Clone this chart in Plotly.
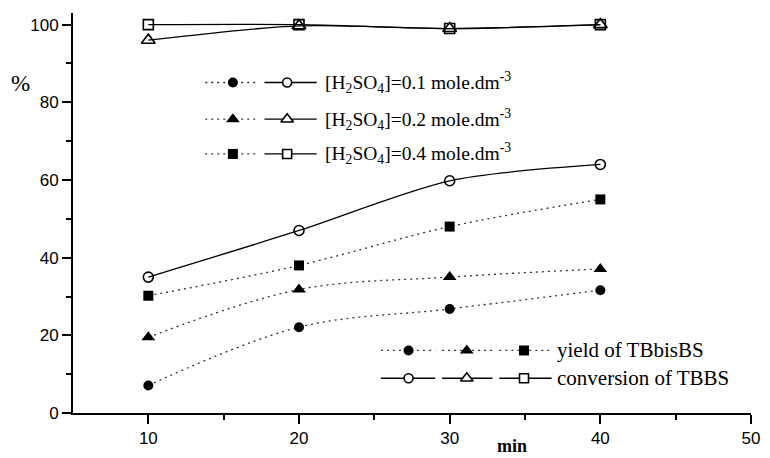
import plotly.graph_objects as go

# ---------------- data ----------------
time_min = [10, 20, 30, 40]
conc_labels = ["0.1", "0.2", "0.4"]
conversion_01 = [35.0, 47.0, 59.8, 64.0]
conversion_02 = [96.0, 99.7, 99.0, 100.0]
conversion_04 = [100.0, 100.0, 99.0, 100.0]
yield_01 = [7.1, 22.1, 26.8, 31.6]
yield_02 = [19.5, 31.8, 35.0, 37.1]
yield_04 = [30.2, 38.0, 48.0, 55.0]

x_ticks = [10, 20, 30, 40, 50]
y_ticks = [0, 20, 40, 60, 80, 100]

# ---------------- styling ----------------
SYM_FILLED = ["circle", "triangle-up", "square"]
SYM_OPEN = ["circle-open", "triangle-up-open", "square-open"]
SIZES = [10, 12, 10]
DOT = "2px,4px"
TICKFONT = dict(family="Liberation Sans, Arial", size=17, color="black")
SERIF = "Liberation Serif, Times New Roman"

# plot area in pixels
PL, PR, PB, PT = 73, 760, 416, 13
W, H = 770, 458

fig = go.Figure()

conv = [conversion_01, conversion_02, conversion_04]
yld = [yield_01, yield_02, yield_04]

for i in range(3):
    fig.add_trace(go.Scatter(
        x=time_min, y=yld[i], mode="lines+markers",
        line=dict(color="#333", width=1.3, dash=DOT, shape="spline", smoothing=1.0),
        marker=dict(symbol=SYM_FILLED[i], size=SIZES[i], color="black"),
        showlegend=False, cliponaxis=False))
for i in range(3):
    fig.add_trace(go.Scatter(
        x=time_min, y=conv[i], mode="lines+markers",
        line=dict(color="black", width=1.3, shape="spline", smoothing=0.8),
        marker=dict(symbol=SYM_OPEN[i], size=SIZES[i], color="black",
                    line=dict(width=1.6, color="black")),
        showlegend=False, cliponaxis=False))

# ---------------- custom legends (pixel overlay axes) ----------------
def seg(x0, x1, y, dotted):
    fig.add_trace(go.Scatter(
        x=[x0, x1], y=[y, y], mode="lines", xaxis="x2", yaxis="y2",
        line=dict(color="#333" if dotted else "black", width=1.3,
                  dash=DOT if dotted else "solid"),
        showlegend=False, hoverinfo="skip"))

def mark(x, y, i, filled):
    if filled:
        m = dict(symbol=SYM_FILLED[i], size=SIZES[i], color="black")
    else:
        # white-filled marker with black outline (hides the line behind it)
        m = dict(symbol=SYM_FILLED[i], size=SIZES[i] - 1, color="white",
                 line=dict(width=1.6, color="black"))
    fig.add_trace(go.Scatter(
        x=[x], y=[y], mode="markers", xaxis="x2", yaxis="y2", marker=m,
        showlegend=False, hoverinfo="skip"))

annotations = []
def px_to_paper(x, y):
    return (x - PL) / (PR - PL), (PB - y) / (PB - PT)

def text(x, y, s, size=19, anchor="left", bold=False):
    xp, yp = px_to_paper(x, y)
    annotations.append(dict(
        x=xp, y=yp, xref="paper", yref="paper", text=("<b>%s</b>" % s) if bold else s,
        showarrow=False, xanchor=anchor, yanchor="middle",
        font=dict(family=SERIF, size=size, color="black")))

top_rows = [83, 120, 155]
for i, yy in enumerate(top_rows):
    seg(207, 258, yy, True)
    mark(235, yy, i, True)
    seg(267, 320, yy, False)
    mark(290, yy, i, False)
    text(326, yy, "[H<sub>2</sub>SO<sub>4</sub>]=%s mole.dm<sup>-3</sup>" % conc_labels[i], size=19.5)

bot_rows = [353, 381]
seg_x = [(385, 440), (447, 498), (505, 558)]
mark_x = [413, 472, 530]
for r, yy in enumerate(bot_rows):
    filled = (r == 0)
    for i in range(3):
        seg(seg_x[i][0], seg_x[i][1], yy, filled)
        mark(mark_x[i], yy, i, filled)
text(561, bot_rows[0], "yield of TBbisBS", size=21)
text(561, bot_rows[1], "conversion of TBBS", size=21)

text(20, 84, "%", size=23, anchor="center")
text(518, 449, "min", size=18, anchor="center", bold=True)

fig.update_layout(
    width=W, height=H,
    margin=dict(l=PL, r=W - PR, t=PT, b=H - PB),
    paper_bgcolor="white", plot_bgcolor="white",
    showlegend=False,
    annotations=annotations,
    xaxis=dict(range=[5, 50], tickvals=x_ticks, ticks="outside", ticklen=9, tickwidth=1.5,
               tickcolor="black", showline=True, linewidth=2, linecolor="black",
               showgrid=False, zeroline=False, tickfont=TICKFONT,
               minor=dict(ticks="outside", ticklen=5, tickwidth=1.5, tickcolor="black",
                          tickvals=[15, 25, 35, 45])),
    yaxis=dict(range=[0, 103], tickvals=y_ticks, ticks="outside", ticklen=9, tickwidth=1.5,
               tickcolor="black", showline=True, linewidth=2, linecolor="black",
               showgrid=False, zeroline=False, tickfont=TICKFONT,
               minor=dict(ticks="outside", ticklen=5, tickwidth=1.5, tickcolor="black",
                          tickvals=[10, 30, 50, 70, 90])),
    xaxis2=dict(range=[PL, PR], overlaying="x", anchor="y2", visible=False, fixedrange=True),
    yaxis2=dict(range=[PB, PT], overlaying="y", anchor="x2", visible=False, fixedrange=True),
)

fig.write_html("out.html")
